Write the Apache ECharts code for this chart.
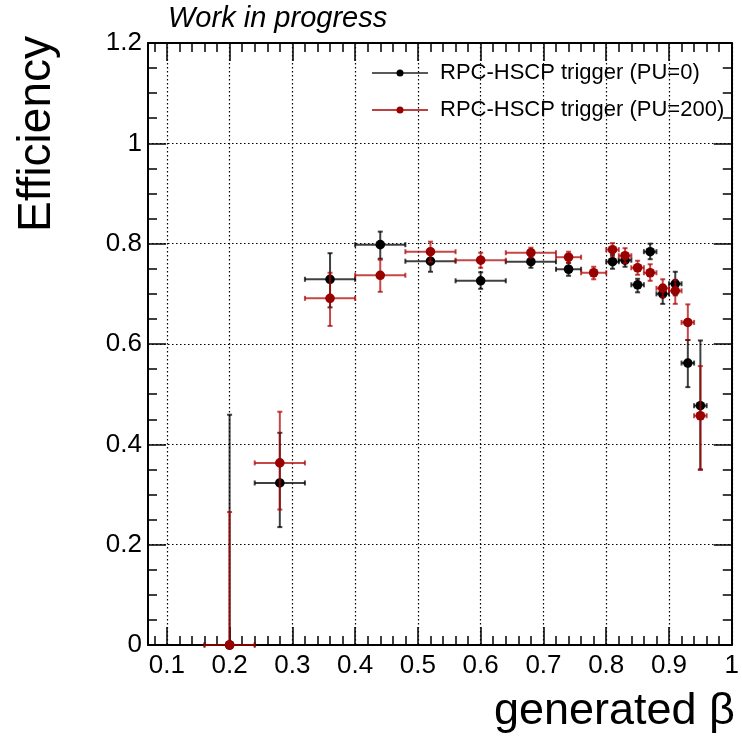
<!DOCTYPE html>
<html><head><meta charset="utf-8">
<script src="https://cdn.jsdelivr.net/npm/echarts@6/dist/echarts.min.js"></script>
<style>html,body{margin:0;padding:0;background:#fff}#c{width:742px;height:738px}</style>
</head><body><div id="c"></div>
<script>
// ---- axis ticks ----
const xMajorTicks = [0.1, 0.2, 0.3, 0.4, 0.5, 0.6, 0.7, 0.8, 0.9, 1.0];
const xMinorTicks = [0.08, 0.12, 0.14, 0.16, 0.18, 0.22, 0.24, 0.26, 0.28, 0.32, 0.34, 0.36, 0.38,
  0.42, 0.44, 0.46, 0.48, 0.52, 0.54, 0.56, 0.58, 0.62, 0.64, 0.66, 0.68, 0.72, 0.74, 0.76, 0.78,
  0.82, 0.84, 0.86, 0.88, 0.92, 0.94, 0.96, 0.98];

// ---- PU=0 (black) ----
const pu0X    = [0.20, 0.28, 0.36, 0.44, 0.52, 0.60, 0.68, 0.74, 0.81, 0.83, 0.85, 0.87, 0.89, 0.91, 0.93, 0.95];
const pu0Y    = [0.000, 0.323, 0.729, 0.798, 0.765, 0.726, 0.764, 0.749, 0.764, 0.767, 0.718, 0.784, 0.700, 0.720, 0.562, 0.477];
const pu0XErr = [0.04, 0.04, 0.04, 0.04, 0.04, 0.04, 0.04, 0.02, 0.01, 0.01, 0.01, 0.01, 0.01, 0.01, 0.01, 0.01];
const pu0YLo  = [0.000, 0.235, 0.673, 0.770, 0.744, 0.710, 0.752, 0.736, 0.750, 0.754, 0.703, 0.769, 0.680, 0.697, 0.514, 0.350];
const pu0YHi  = [0.459, 0.423, 0.781, 0.824, 0.786, 0.743, 0.776, 0.762, 0.778, 0.780, 0.730, 0.800, 0.718, 0.744, 0.608, 0.607];

// ---- PU=200 (red) ----
const pu200X    = [0.20, 0.28, 0.36, 0.44, 0.52, 0.60, 0.68, 0.74, 0.78, 0.81, 0.83, 0.85, 0.87, 0.89, 0.91, 0.93, 0.95];
const pu200Y    = [0.000, 0.363, 0.691, 0.737, 0.784, 0.767, 0.782, 0.773, 0.742, 0.788, 0.776, 0.752, 0.742, 0.711, 0.706, 0.643, 0.457];
const pu200XErr = [0.04, 0.04, 0.04, 0.04, 0.04, 0.04, 0.04, 0.02, 0.02, 0.01, 0.01, 0.01, 0.01, 0.01, 0.01, 0.01, 0.01];
const pu200YLo  = [0.000, 0.270, 0.636, 0.704, 0.764, 0.752, 0.772, 0.762, 0.729, 0.775, 0.761, 0.738, 0.726, 0.693, 0.680, 0.608, 0.349];
const pu200YHi  = [0.265, 0.465, 0.742, 0.768, 0.804, 0.782, 0.792, 0.784, 0.754, 0.801, 0.791, 0.766, 0.759, 0.729, 0.728, 0.679, 0.556];

const seriesNames = ['RPC-HSCP trigger (PU=0)', 'RPC-HSCP trigger (PU=200)'];
const FONT = '"Liberation Sans", Arial, Helvetica, sans-serif';

function build(xs, ys, xe, ylo, yhi) {
  return xs.map((x, i) => [x, ys[i], x - xe[i], x + xe[i], ylo[i], yhi[i]]);
}

function makeRender(lineColor, dotColor) {
  return function (params, api) {
    const x = api.value(0), y = api.value(1);
    const c = api.coord([x, y]);
    const pxl = api.coord([api.value(2), y]);
    const pxh = api.coord([api.value(3), y]);
    const pyl = api.coord([x, api.value(4)]);
    const pyh = api.coord([x, api.value(5)]);
    const ls = { stroke: lineColor, lineWidth: 2 };
    const cap = 2.5;
    const ch = [
      { type: 'line', shape: { x1: pxl[0], y1: c[1], x2: pxh[0], y2: c[1] }, style: ls },
      { type: 'line', shape: { x1: c[0], y1: pyh[1], x2: c[0], y2: pyl[1] }, style: ls },
      { type: 'line', shape: { x1: pxl[0], y1: c[1] - cap, x2: pxl[0], y2: c[1] + cap }, style: ls },
      { type: 'line', shape: { x1: pxh[0], y1: c[1] - cap, x2: pxh[0], y2: c[1] + cap }, style: ls }
    ];
    if (Math.abs(pyh[1] - c[1]) > 1) ch.push({ type: 'line', shape: { x1: c[0] - cap, y1: pyh[1], x2: c[0] + cap, y2: pyh[1] }, style: ls });
    if (Math.abs(pyl[1] - c[1]) > 1) ch.push({ type: 'line', shape: { x1: c[0] - cap, y1: pyl[1], x2: c[0] + cap, y2: pyl[1] }, style: ls });
    ch.push({ type: 'circle', shape: { cx: c[0], cy: c[1], r: 4.8 }, style: { fill: dotColor } });
    return { type: 'group', children: ch };
  };
}

const XMIN = 0.07, XMAX = 1.0;
const frameLine = { show: true, lineStyle: { color: '#000', width: 2 } };
const gridDot = { show: true, lineStyle: { color: '#000', width: 1.2, type: [1.5, 2.5] } };
const tickStyle = { color: '#000', width: 1.5 };

const xBase = { type: 'value', gridIndex: 0, min: XMIN, max: XMAX, splitNumber: 10 };

const option = {
  animation: false,
  backgroundColor: '#fff',
  grid: { left: 148, right: 9, top: 43, bottom: 93, containLabel: false },
  xAxis: [
    Object.assign({}, xBase, {
      position: 'bottom',
      axisLine: frameLine,
      axisTick: { show: true, inside: true, length: 18, customValues: xMajorTicks, lineStyle: tickStyle },
      axisLabel: { show: true, customValues: xMajorTicks, margin: 8, fontSize: 26, color: '#000', fontFamily: FONT,
        formatter: v => (Math.abs(v - 1) < 1e-9 ? '1' : v.toFixed(1)) },
      splitLine: gridDot
    }),
    Object.assign({}, xBase, {
      position: 'bottom',
      axisLine: { show: false },
      axisTick: { show: true, inside: true, length: 9, customValues: xMinorTicks, lineStyle: tickStyle },
      axisLabel: { show: false },
      splitLine: { show: false }
    }),
    Object.assign({}, xBase, {
      position: 'top',
      axisLine: frameLine,
      axisTick: { show: true, inside: true, length: 18, customValues: xMajorTicks, lineStyle: tickStyle },
      axisLabel: { show: false },
      splitLine: { show: false }
    }),
    Object.assign({}, xBase, {
      position: 'top',
      axisLine: { show: false },
      axisTick: { show: true, inside: true, length: 9, customValues: xMinorTicks, lineStyle: tickStyle },
      axisLabel: { show: false },
      splitLine: { show: false }
    })
  ],
  yAxis: [
    {
      type: 'value', gridIndex: 0, min: 0, max: 1.2, interval: 0.2, position: 'left',
      axisLine: frameLine,
      axisTick: { show: true, inside: true, length: 18, lineStyle: tickStyle },
      minorTick: { show: true, splitNumber: 4, length: 9, lineStyle: tickStyle },
      axisLabel: { show: true, margin: 6, fontSize: 26, color: '#000', fontFamily: FONT,
        formatter: v => (v === 0 ? '0' : (Math.abs(v - 1) < 1e-9 ? '1' : v.toFixed(1))) },
      splitLine: gridDot
    },
    {
      type: 'value', gridIndex: 0, min: 0, max: 1.2, interval: 0.2, position: 'right',
      axisLine: frameLine,
      axisTick: { show: true, inside: true, length: 18, lineStyle: tickStyle },
      minorTick: { show: true, splitNumber: 4, length: 9, lineStyle: tickStyle },
      axisLabel: { show: false },
      splitLine: { show: false }
    }
  ],
  series: [
    {
      type: 'custom', name: seriesNames[0], xAxisIndex: 0, yAxisIndex: 0, clip: false,
      renderItem: makeRender('rgba(0,0,0,0.75)', '#000'),
      encode: { x: 0, y: 1 },
      data: build(pu0X, pu0Y, pu0XErr, pu0YLo, pu0YHi), z: 3
    },
    {
      type: 'custom', name: seriesNames[1], xAxisIndex: 0, yAxisIndex: 0, clip: false,
      renderItem: makeRender('rgba(175,0,0,0.72)', '#990000'),
      encode: { x: 0, y: 1 },
      data: build(pu200X, pu200Y, pu200XErr, pu200YLo, pu200YHi), z: 4
    }
  ],
  graphic: [
    { type: 'text', left: 168, top: 4, style: { text: 'Work in progress', font: 'italic 29px ' + FONT, fill: '#000' } },
    { type: 'text', x: 37, y: 134, rotation: Math.PI / 2,
      style: { text: 'Efficiency', font: '46px ' + FONT, fill: '#000', align: 'center', verticalAlign: 'middle' } },
    { type: 'text', x: 735, y: 712,
      style: { text: 'generated β', font: '45px ' + FONT, fill: '#000', align: 'right', verticalAlign: 'middle' } },
    // legend
    { type: 'line', shape: { x1: 372, y1: 73, x2: 428, y2: 73 }, style: { stroke: '#222', lineWidth: 1.5 } },
    { type: 'circle', shape: { cx: 400, cy: 73, r: 3.5 }, style: { fill: '#000' } },
    { type: 'text', x: 440, y: 73, style: { text: seriesNames[0], font: '22px ' + FONT, fill: '#000', verticalAlign: 'middle' } },
    { type: 'line', shape: { x1: 372, y1: 110, x2: 428, y2: 110 }, style: { stroke: '#aa0000', lineWidth: 1.5 } },
    { type: 'circle', shape: { cx: 400, cy: 110, r: 3.5 }, style: { fill: '#990000' } },
    { type: 'text', x: 440, y: 110, style: { text: seriesNames[1], font: '22px ' + FONT, fill: '#000', verticalAlign: 'middle' } }
  ]
};

const chart = echarts.init(document.getElementById('c'), null, { renderer: 'canvas' });
chart.setOption(option);
</script>
</body></html>
